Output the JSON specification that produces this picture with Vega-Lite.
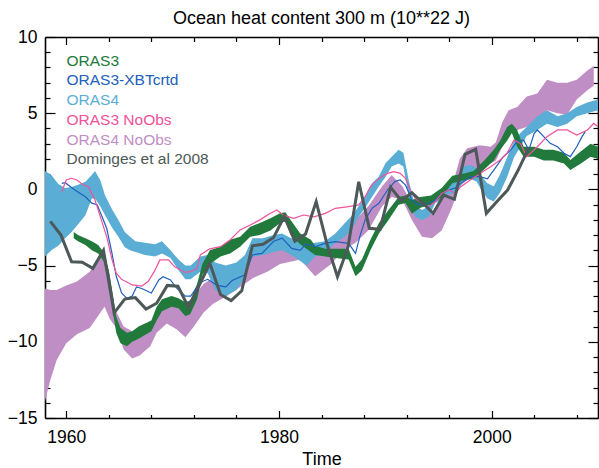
{
  "$schema": "https://vega.github.io/schema/vega-lite/v6.json",
  "width": 553,
  "height": 381,
  "autosize": {"type": "none"},
  "padding": {"left": 45, "top": 37, "right": 1, "bottom": 50},
  "background": "white",
  "title": {
    "text": "Ocean heat content 300 m (10**22 J)",
    "font": "Liberation Sans",
    "fontSize": 18,
    "fontWeight": "normal",
    "color": "#000000",
    "anchor": "middle",
    "baseline": "alphabetic",
    "offset": -14
  },
  "config": {
    "view": {"stroke": null},
    "axis": {
      "grid": false,
      "labelFont": "Liberation Sans",
      "labelFontSize": 17.5,
      "labelColor": "#000000",
      "titleFont": "Liberation Sans",
      "titleFontSize": 18,
      "titleFontWeight": "normal",
      "titleColor": "#000000",
      "domainColor": "#000000",
      "domainWidth": 1.6,
      "tickColor": "#000000",
      "tickWidth": 1.2,
      "labelOverlap": false,
      "labelBound": false,
      "labelFlush": false
    },
    "legend": {
      "orient": "none",
      "legendX": 6,
      "legendY": 16,
      "title": null,
      "labelFont": "Liberation Sans",
      "labelFontSize": 15.5,
      "rowPadding": 2.7,
      "symbolSize": 0,
      "symbolOpacity": 0,
      "symbolStrokeWidth": 0,
      "labelOffset": 0
    }
  },
  "datasets": {
    "bands": [
      {"s": "ORAS4 NoObs", "t": 1958.0, "lo": -13.9, "hi": -6.5},
      {"s": "ORAS4 NoObs", "t": 1958.5, "lo": -12.5, "hi": -6.6},
      {"s": "ORAS4 NoObs", "t": 1959.1, "lo": -11.2, "hi": -6.6},
      {"s": "ORAS4 NoObs", "t": 1960.0, "lo": -10.1, "hi": -6.3},
      {"s": "ORAS4 NoObs", "t": 1961.0, "lo": -9.5, "hi": -6.05},
      {"s": "ORAS4 NoObs", "t": 1962.2, "lo": -9.1, "hi": -5.4},
      {"s": "ORAS4 NoObs", "t": 1963.2, "lo": -8.1, "hi": -4.4},
      {"s": "ORAS4 NoObs", "t": 1963.6, "lo": -7.7, "hi": -4.2},
      {"s": "ORAS4 NoObs", "t": 1964.1, "lo": -8.5, "hi": -5.7},
      {"s": "ORAS4 NoObs", "t": 1964.6, "lo": -9.0, "hi": -7.9},
      {"s": "ORAS4 NoObs", "t": 1965.4, "lo": -10.5, "hi": -9.0},
      {"s": "ORAS4 NoObs", "t": 1966.2, "lo": -11.1, "hi": -9.3},
      {"s": "ORAS4 NoObs", "t": 1966.9, "lo": -10.9, "hi": -9.2},
      {"s": "ORAS4 NoObs", "t": 1967.9, "lo": -10.3, "hi": -8.8},
      {"s": "ORAS4 NoObs", "t": 1968.5, "lo": -9.4, "hi": -8.0},
      {"s": "ORAS4 NoObs", "t": 1969.45, "lo": -8.8, "hi": -7.3},
      {"s": "ORAS4 NoObs", "t": 1970.4, "lo": -9.2, "hi": -7.2},
      {"s": "ORAS4 NoObs", "t": 1971.2, "lo": -9.7, "hi": -7.5},
      {"s": "ORAS4 NoObs", "t": 1972.0, "lo": -9.0, "hi": -7.0},
      {"s": "ORAS4 NoObs", "t": 1972.9, "lo": -8.1, "hi": -6.2},
      {"s": "ORAS4 NoObs", "t": 1973.8, "lo": -7.5, "hi": -5.8},
      {"s": "ORAS4 NoObs", "t": 1975.1, "lo": -7.0, "hi": -5.6},
      {"s": "ORAS4 NoObs", "t": 1976.35, "lo": -6.4, "hi": -5.0},
      {"s": "ORAS4 NoObs", "t": 1977.6, "lo": -5.8, "hi": -4.2},
      {"s": "ORAS4 NoObs", "t": 1978.9, "lo": -5.4, "hi": -3.7},
      {"s": "ORAS4 NoObs", "t": 1980.1, "lo": -4.9, "hi": -3.3},
      {"s": "ORAS4 NoObs", "t": 1981.4, "lo": -4.7, "hi": -3.2},
      {"s": "ORAS4 NoObs", "t": 1982.0, "lo": -4.6, "hi": -3.3},
      {"s": "ORAS4 NoObs", "t": 1983.4, "lo": -5.7, "hi": -3.8},
      {"s": "ORAS4 NoObs", "t": 1985.0, "lo": -4.85, "hi": -3.1},
      {"s": "ORAS4 NoObs", "t": 1986.0, "lo": -4.0, "hi": -2.6},
      {"s": "ORAS4 NoObs", "t": 1987.2, "lo": -3.5, "hi": -2.0},
      {"s": "ORAS4 NoObs", "t": 1988.4, "lo": -2.7, "hi": -1.1},
      {"s": "ORAS4 NoObs", "t": 1989.7, "lo": -1.1, "hi": 0.2},
      {"s": "ORAS4 NoObs", "t": 1990.6, "lo": -0.5, "hi": 0.95},
      {"s": "ORAS4 NoObs", "t": 1991.6, "lo": -0.7, "hi": 0.2},
      {"s": "ORAS4 NoObs", "t": 1992.5, "lo": -2.0, "hi": -0.9},
      {"s": "ORAS4 NoObs", "t": 1993.45, "lo": -3.1, "hi": -1.35},
      {"s": "ORAS4 NoObs", "t": 1994.4, "lo": -3.2, "hi": -1.6},
      {"s": "ORAS4 NoObs", "t": 1995.3, "lo": -2.7, "hi": -0.5},
      {"s": "ORAS4 NoObs", "t": 1996.2, "lo": -1.3, "hi": 0.0},
      {"s": "ORAS4 NoObs", "t": 1997.0, "lo": 0.2, "hi": 2.0},
      {"s": "ORAS4 NoObs", "t": 1997.7, "lo": 0.6, "hi": 2.7},
      {"s": "ORAS4 NoObs", "t": 1998.9, "lo": 1.3, "hi": 2.9},
      {"s": "ORAS4 NoObs", "t": 1999.9, "lo": 1.7, "hi": 2.8},
      {"s": "ORAS4 NoObs", "t": 2000.4, "lo": 1.9, "hi": 3.1},
      {"s": "ORAS4 NoObs", "t": 2001.0, "lo": 2.8, "hi": 4.4},
      {"s": "ORAS4 NoObs", "t": 2001.6, "lo": 3.7, "hi": 5.2},
      {"s": "ORAS4 NoObs", "t": 2002.4, "lo": 3.9, "hi": 5.4},
      {"s": "ORAS4 NoObs", "t": 2003.3, "lo": 4.1, "hi": 6.1},
      {"s": "ORAS4 NoObs", "t": 2004.3, "lo": 4.4, "hi": 6.3},
      {"s": "ORAS4 NoObs", "t": 2005.2, "lo": 5.2, "hi": 7.2},
      {"s": "ORAS4 NoObs", "t": 2006.2, "lo": 5.0, "hi": 7.0},
      {"s": "ORAS4 NoObs", "t": 2007.1, "lo": 4.9, "hi": 7.0},
      {"s": "ORAS4 NoObs", "t": 2008.0, "lo": 5.9, "hi": 7.2},
      {"s": "ORAS4 NoObs", "t": 2009.0, "lo": 6.5, "hi": 7.8},
      {"s": "ORAS4 NoObs", "t": 2009.6, "lo": 6.8, "hi": 8.1},

      {"s": "ORAS4", "t": 1958.0, "lo": -4.4, "hi": 1.2},
      {"s": "ORAS4", "t": 1958.6, "lo": -4.0, "hi": 0.95},
      {"s": "ORAS4", "t": 1959.25, "lo": -3.7, "hi": 0.35},
      {"s": "ORAS4", "t": 1959.9, "lo": -3.2, "hi": 0.1},
      {"s": "ORAS4", "t": 1960.5, "lo": -2.8, "hi": 0.15},
      {"s": "ORAS4", "t": 1961.1, "lo": -2.3, "hi": 0.3},
      {"s": "ORAS4", "t": 1961.8, "lo": -1.7, "hi": 0.5},
      {"s": "ORAS4", "t": 1962.4, "lo": -0.6, "hi": 0.95},
      {"s": "ORAS4", "t": 1962.7, "lo": -0.6, "hi": 1.2},
      {"s": "ORAS4", "t": 1963.2, "lo": -1.1, "hi": 0.6},
      {"s": "ORAS4", "t": 1963.65, "lo": -1.7, "hi": -0.4},
      {"s": "ORAS4", "t": 1964.3, "lo": -2.5, "hi": -1.3},
      {"s": "ORAS4", "t": 1964.9, "lo": -3.1, "hi": -2.0},
      {"s": "ORAS4", "t": 1965.5, "lo": -3.8, "hi": -2.8},
      {"s": "ORAS4", "t": 1966.0, "lo": -4.0, "hi": -3.1},
      {"s": "ORAS4", "t": 1966.5, "lo": -4.1, "hi": -3.4},
      {"s": "ORAS4", "t": 1967.4, "lo": -4.3, "hi": -3.5},
      {"s": "ORAS4", "t": 1968.35, "lo": -4.4, "hi": -3.6},
      {"s": "ORAS4", "t": 1969.0, "lo": -4.2, "hi": -3.4},
      {"s": "ORAS4", "t": 1969.8, "lo": -4.5, "hi": -4.0},
      {"s": "ORAS4", "t": 1970.55, "lo": -5.3, "hi": -4.6},
      {"s": "ORAS4", "t": 1971.2, "lo": -5.9, "hi": -5.0},
      {"s": "ORAS4", "t": 1971.7, "lo": -5.9, "hi": -5.0},
      {"s": "ORAS4", "t": 1972.6, "lo": -5.4, "hi": -4.4},
      {"s": "ORAS4", "t": 1973.3, "lo": -5.5, "hi": -4.3},
      {"s": "ORAS4", "t": 1974.0, "lo": -6.6, "hi": -4.8},
      {"s": "ORAS4", "t": 1975.0, "lo": -7.0, "hi": -5.0},
      {"s": "ORAS4", "t": 1976.0, "lo": -6.6, "hi": -4.8},
      {"s": "ORAS4", "t": 1976.8, "lo": -5.8, "hi": -4.3},
      {"s": "ORAS4", "t": 1977.5, "lo": -4.4, "hi": -3.2},
      {"s": "ORAS4", "t": 1978.5, "lo": -4.3, "hi": -3.2},
      {"s": "ORAS4", "t": 1979.5, "lo": -4.1, "hi": -3.0},
      {"s": "ORAS4", "t": 1980.3, "lo": -4.0, "hi": -2.9},
      {"s": "ORAS4", "t": 1981.4, "lo": -4.4, "hi": -3.3},
      {"s": "ORAS4", "t": 1982.6, "lo": -5.0, "hi": -3.6},
      {"s": "ORAS4", "t": 1983.4, "lo": -4.4, "hi": -3.5},
      {"s": "ORAS4", "t": 1984.35, "lo": -4.2, "hi": -3.4},
      {"s": "ORAS4", "t": 1985.3, "lo": -3.5, "hi": -2.9},
      {"s": "ORAS4", "t": 1986.2, "lo": -3.1, "hi": -2.2},
      {"s": "ORAS4", "t": 1986.9, "lo": -2.6, "hi": -1.7},
      {"s": "ORAS4", "t": 1987.5, "lo": -1.8, "hi": -1.1},
      {"s": "ORAS4", "t": 1988.1, "lo": -1.2, "hi": -0.5},
      {"s": "ORAS4", "t": 1988.75, "lo": -0.5, "hi": 0.4},
      {"s": "ORAS4", "t": 1989.4, "lo": 0.2, "hi": 0.85},
      {"s": "ORAS4", "t": 1990.0, "lo": 0.8, "hi": 1.7},
      {"s": "ORAS4", "t": 1990.6, "lo": 1.5, "hi": 2.15},
      {"s": "ORAS4", "t": 1991.25, "lo": 1.7, "hi": 2.6},
      {"s": "ORAS4", "t": 1991.7, "lo": 1.5, "hi": 2.4},
      {"s": "ORAS4", "t": 1992.2, "lo": -0.5, "hi": 0.6},
      {"s": "ORAS4", "t": 1992.8, "lo": -1.8, "hi": -1.1},
      {"s": "ORAS4", "t": 1993.45, "lo": -2.0, "hi": -1.35},
      {"s": "ORAS4", "t": 1994.1, "lo": -1.8, "hi": -1.1},
      {"s": "ORAS4", "t": 1994.7, "lo": -0.9, "hi": -0.3},
      {"s": "ORAS4", "t": 1995.3, "lo": -0.7, "hi": 0.0},
      {"s": "ORAS4", "t": 1995.96, "lo": -0.3, "hi": 0.4},
      {"s": "ORAS4", "t": 1996.6, "lo": -0.3, "hi": 0.6},
      {"s": "ORAS4", "t": 1997.3, "lo": 0.5, "hi": 1.5},
      {"s": "ORAS4", "t": 1998.0, "lo": 0.7, "hi": 1.6},
      {"s": "ORAS4", "t": 1998.6, "lo": 0.5, "hi": 1.4},
      {"s": "ORAS4", "t": 1999.0, "lo": 0.0, "hi": 0.9},
      {"s": "ORAS4", "t": 1999.6, "lo": -0.6, "hi": 0.4},
      {"s": "ORAS4", "t": 2000.2, "lo": -0.8, "hi": 0.2},
      {"s": "ORAS4", "t": 2000.8, "lo": -0.2, "hi": 1.0},
      {"s": "ORAS4", "t": 2001.45, "lo": 0.8, "hi": 2.1},
      {"s": "ORAS4", "t": 2002.1, "lo": 2.1, "hi": 3.2},
      {"s": "ORAS4", "t": 2002.7, "lo": 2.8, "hi": 3.7},
      {"s": "ORAS4", "t": 2003.3, "lo": 3.5, "hi": 4.1},
      {"s": "ORAS4", "t": 2004.3, "lo": 3.9, "hi": 4.8},
      {"s": "ORAS4", "t": 2005.2, "lo": 4.3, "hi": 5.2},
      {"s": "ORAS4", "t": 2006.2, "lo": 4.1, "hi": 4.8},
      {"s": "ORAS4", "t": 2007.1, "lo": 4.3, "hi": 5.0},
      {"s": "ORAS4", "t": 2008.0, "lo": 4.8, "hi": 5.4},
      {"s": "ORAS4", "t": 2009.0, "lo": 5.0, "hi": 5.7},
      {"s": "ORAS4", "t": 2010.0, "lo": 5.2, "hi": 5.9},

      {"s": "ORAS3", "t": 1960.7, "lo": -3.2, "hi": -2.8},
      {"s": "ORAS3", "t": 1961.1, "lo": -3.4, "hi": -3.0},
      {"s": "ORAS3", "t": 1961.8, "lo": -3.65, "hi": -3.2},
      {"s": "ORAS3", "t": 1962.4, "lo": -4.0, "hi": -3.4},
      {"s": "ORAS3", "t": 1963.0, "lo": -4.2, "hi": -3.65},
      {"s": "ORAS3", "t": 1963.5, "lo": -4.7, "hi": -4.1},
      {"s": "ORAS3", "t": 1964.0, "lo": -6.2, "hi": -5.3},
      {"s": "ORAS3", "t": 1964.4, "lo": -8.1, "hi": -7.0},
      {"s": "ORAS3", "t": 1964.7, "lo": -9.4, "hi": -8.35},
      {"s": "ORAS3", "t": 1965.1, "lo": -10.1, "hi": -9.1},
      {"s": "ORAS3", "t": 1965.7, "lo": -10.3, "hi": -9.4},
      {"s": "ORAS3", "t": 1966.2, "lo": -10.0, "hi": -9.3},
      {"s": "ORAS3", "t": 1966.8, "lo": -9.8, "hi": -9.0},
      {"s": "ORAS3", "t": 1967.4, "lo": -9.55, "hi": -8.8},
      {"s": "ORAS3", "t": 1968.0, "lo": -9.3, "hi": -8.6},
      {"s": "ORAS3", "t": 1968.5, "lo": -8.6, "hi": -7.7},
      {"s": "ORAS3", "t": 1969.0, "lo": -8.0, "hi": -7.2},
      {"s": "ORAS3", "t": 1969.9, "lo": -7.7, "hi": -7.0},
      {"s": "ORAS3", "t": 1970.55, "lo": -7.8, "hi": -7.15},
      {"s": "ORAS3", "t": 1971.2, "lo": -8.3, "hi": -7.4},
      {"s": "ORAS3", "t": 1971.65, "lo": -8.2, "hi": -7.3},
      {"s": "ORAS3", "t": 1972.3, "lo": -7.2, "hi": -6.2},
      {"s": "ORAS3", "t": 1972.8, "lo": -5.6, "hi": -4.9},
      {"s": "ORAS3", "t": 1973.5, "lo": -4.9, "hi": -4.0},
      {"s": "ORAS3", "t": 1974.5, "lo": -4.4, "hi": -3.76},
      {"s": "ORAS3", "t": 1975.4, "lo": -4.2, "hi": -3.3},
      {"s": "ORAS3", "t": 1976.35, "lo": -3.76, "hi": -3.1},
      {"s": "ORAS3", "t": 1977.3, "lo": -3.1, "hi": -2.45},
      {"s": "ORAS3", "t": 1978.2, "lo": -3.0, "hi": -2.2},
      {"s": "ORAS3", "t": 1979.2, "lo": -2.7, "hi": -1.9},
      {"s": "ORAS3", "t": 1980.1, "lo": -2.2, "hi": -1.57},
      {"s": "ORAS3", "t": 1980.6, "lo": -2.1, "hi": -1.5},
      {"s": "ORAS3", "t": 1981.1, "lo": -3.0, "hi": -2.0},
      {"s": "ORAS3", "t": 1982.0, "lo": -3.6, "hi": -2.9},
      {"s": "ORAS3", "t": 1983.0, "lo": -4.1, "hi": -3.3},
      {"s": "ORAS3", "t": 1983.4, "lo": -4.3, "hi": -3.7},
      {"s": "ORAS3", "t": 1984.35, "lo": -4.4, "hi": -3.9},
      {"s": "ORAS3", "t": 1985.3, "lo": -4.5, "hi": -3.9},
      {"s": "ORAS3", "t": 1986.55, "lo": -4.6, "hi": -3.9},
      {"s": "ORAS3", "t": 1987.2, "lo": -5.7, "hi": -5.07},
      {"s": "ORAS3", "t": 1987.8, "lo": -5.3, "hi": -4.6},
      {"s": "ORAS3", "t": 1988.6, "lo": -4.0, "hi": -3.3},
      {"s": "ORAS3", "t": 1989.4, "lo": -2.9, "hi": -2.2},
      {"s": "ORAS3", "t": 1990.3, "lo": -2.0, "hi": -1.35},
      {"s": "ORAS3", "t": 1991.25, "lo": -1.0, "hi": -0.5},
      {"s": "ORAS3", "t": 1991.9, "lo": -0.9, "hi": -0.4},
      {"s": "ORAS3", "t": 1992.5, "lo": -1.6, "hi": -0.7},
      {"s": "ORAS3", "t": 1993.3, "lo": -1.2, "hi": -0.5},
      {"s": "ORAS3", "t": 1994.3, "lo": -1.0, "hi": -0.4},
      {"s": "ORAS3", "t": 1995.3, "lo": -0.5, "hi": 0.1},
      {"s": "ORAS3", "t": 1996.3, "lo": 0.4, "hi": 0.9},
      {"s": "ORAS3", "t": 1997.4, "lo": 0.6, "hi": 1.05},
      {"s": "ORAS3", "t": 1998.3, "lo": 0.7, "hi": 1.2},
      {"s": "ORAS3", "t": 1999.3, "lo": 1.3, "hi": 1.9},
      {"s": "ORAS3", "t": 2000.2, "lo": 1.9, "hi": 2.6},
      {"s": "ORAS3", "t": 2000.8, "lo": 2.6, "hi": 3.2},
      {"s": "ORAS3", "t": 2001.45, "lo": 3.2, "hi": 4.1},
      {"s": "ORAS3", "t": 2001.9, "lo": 3.7, "hi": 4.3},
      {"s": "ORAS3", "t": 2002.4, "lo": 2.8, "hi": 3.9},
      {"s": "ORAS3", "t": 2003.0, "lo": 2.15, "hi": 2.8},
      {"s": "ORAS3", "t": 2004.0, "lo": 2.15, "hi": 2.8},
      {"s": "ORAS3", "t": 2004.9, "lo": 1.9, "hi": 2.6},
      {"s": "ORAS3", "t": 2005.8, "lo": 1.9, "hi": 2.6},
      {"s": "ORAS3", "t": 2006.8, "lo": 1.7, "hi": 2.4},
      {"s": "ORAS3", "t": 2007.4, "lo": 1.27, "hi": 1.93},
      {"s": "ORAS3", "t": 2008.4, "lo": 1.7, "hi": 2.5},
      {"s": "ORAS3", "t": 2009.3, "lo": 2.15, "hi": 3.0},
      {"s": "ORAS3", "t": 2010.0, "lo": 2.0, "hi": 2.8}
    ],
    "lines": [
      {"s": "ORAS3-XBTcrtd", "t": 1959.57, "v": 0.4},
      {"s": "ORAS3-XBTcrtd", "t": 1959.9, "v": 0.44},
      {"s": "ORAS3-XBTcrtd", "t": 1960.8, "v": -0.04},
      {"s": "ORAS3-XBTcrtd", "t": 1961.8, "v": -0.48},
      {"s": "ORAS3-XBTcrtd", "t": 1962.4, "v": -0.9},
      {"s": "ORAS3-XBTcrtd", "t": 1962.9, "v": -1.0},
      {"s": "ORAS3-XBTcrtd", "t": 1963.3, "v": -1.68},
      {"s": "ORAS3-XBTcrtd", "t": 1963.8, "v": -2.55},
      {"s": "ORAS3-XBTcrtd", "t": 1964.3, "v": -4.2},
      {"s": "ORAS3-XBTcrtd", "t": 1964.7, "v": -5.7},
      {"s": "ORAS3-XBTcrtd", "t": 1965.2, "v": -6.8},
      {"s": "ORAS3-XBTcrtd", "t": 1965.7, "v": -7.15},
      {"s": "ORAS3-XBTcrtd", "t": 1966.2, "v": -7.0},
      {"s": "ORAS3-XBTcrtd", "t": 1966.6, "v": -6.4},
      {"s": "ORAS3-XBTcrtd", "t": 1967.1, "v": -6.5},
      {"s": "ORAS3-XBTcrtd", "t": 1968.0, "v": -6.8},
      {"s": "ORAS3-XBTcrtd", "t": 1968.7, "v": -5.94},
      {"s": "ORAS3-XBTcrtd", "t": 1969.1, "v": -5.73},
      {"s": "ORAS3-XBTcrtd", "t": 1969.8, "v": -5.94},
      {"s": "ORAS3-XBTcrtd", "t": 1970.4, "v": -6.5},
      {"s": "ORAS3-XBTcrtd", "t": 1971.2, "v": -7.0},
      {"s": "ORAS3-XBTcrtd", "t": 1971.7, "v": -7.0},
      {"s": "ORAS3-XBTcrtd", "t": 1972.6, "v": -6.1},
      {"s": "ORAS3-XBTcrtd", "t": 1973.3, "v": -5.9},
      {"s": "ORAS3-XBTcrtd", "t": 1974.2, "v": -6.3},
      {"s": "ORAS3-XBTcrtd", "t": 1975.0, "v": -6.4},
      {"s": "ORAS3-XBTcrtd", "t": 1975.6, "v": -5.98},
      {"s": "ORAS3-XBTcrtd", "t": 1976.8, "v": -5.6},
      {"s": "ORAS3-XBTcrtd", "t": 1977.5, "v": -4.3},
      {"s": "ORAS3-XBTcrtd", "t": 1978.4, "v": -4.2},
      {"s": "ORAS3-XBTcrtd", "t": 1979.5, "v": -3.4},
      {"s": "ORAS3-XBTcrtd", "t": 1980.3, "v": -3.2},
      {"s": "ORAS3-XBTcrtd", "t": 1981.2, "v": -3.87},
      {"s": "ORAS3-XBTcrtd", "t": 1982.0, "v": -4.0},
      {"s": "ORAS3-XBTcrtd", "t": 1982.5, "v": -3.6},
      {"s": "ORAS3-XBTcrtd", "t": 1983.4, "v": -3.76},
      {"s": "ORAS3-XBTcrtd", "t": 1984.35, "v": -3.54},
      {"s": "ORAS3-XBTcrtd", "t": 1985.3, "v": -3.43},
      {"s": "ORAS3-XBTcrtd", "t": 1986.55, "v": -3.54},
      {"s": "ORAS3-XBTcrtd", "t": 1987.2, "v": -4.2},
      {"s": "ORAS3-XBTcrtd", "t": 1987.6, "v": -3.1},
      {"s": "ORAS3-XBTcrtd", "t": 1988.1, "v": -2.0},
      {"s": "ORAS3-XBTcrtd", "t": 1988.75, "v": -1.24},
      {"s": "ORAS3-XBTcrtd", "t": 1989.4, "v": -0.91},
      {"s": "ORAS3-XBTcrtd", "t": 1990.2, "v": -0.04},
      {"s": "ORAS3-XBTcrtd", "t": 1990.9, "v": 0.51},
      {"s": "ORAS3-XBTcrtd", "t": 1991.4, "v": 0.62},
      {"s": "ORAS3-XBTcrtd", "t": 1991.9, "v": 0.29},
      {"s": "ORAS3-XBTcrtd", "t": 1992.5, "v": -0.7},
      {"s": "ORAS3-XBTcrtd", "t": 1993.1, "v": -1.02},
      {"s": "ORAS3-XBTcrtd", "t": 1993.8, "v": -1.02},
      {"s": "ORAS3-XBTcrtd", "t": 1994.7, "v": -0.7},
      {"s": "ORAS3-XBTcrtd", "t": 1995.3, "v": -0.26},
      {"s": "ORAS3-XBTcrtd", "t": 1995.96, "v": -0.04},
      {"s": "ORAS3-XBTcrtd", "t": 1996.6, "v": 0.1},
      {"s": "ORAS3-XBTcrtd", "t": 1997.1, "v": 0.4},
      {"s": "ORAS3-XBTcrtd", "t": 1998.0, "v": 0.84},
      {"s": "ORAS3-XBTcrtd", "t": 1998.9, "v": 0.84},
      {"s": "ORAS3-XBTcrtd", "t": 1999.6, "v": 0.7},
      {"s": "ORAS3-XBTcrtd", "t": 2000.2, "v": 1.27},
      {"s": "ORAS3-XBTcrtd", "t": 2001.1, "v": 2.15},
      {"s": "ORAS3-XBTcrtd", "t": 2001.8, "v": 2.59},
      {"s": "ORAS3-XBTcrtd", "t": 2002.4, "v": 3.13},
      {"s": "ORAS3-XBTcrtd", "t": 2003.0, "v": 3.24},
      {"s": "ORAS3-XBTcrtd", "t": 2003.5, "v": 2.59},
      {"s": "ORAS3-XBTcrtd", "t": 2004.0, "v": 3.68},
      {"s": "ORAS3-XBTcrtd", "t": 2004.3, "v": 3.9},
      {"s": "ORAS3-XBTcrtd", "t": 2004.9, "v": 3.46},
      {"s": "ORAS3-XBTcrtd", "t": 2005.5, "v": 3.02},
      {"s": "ORAS3-XBTcrtd", "t": 2006.2, "v": 2.8},
      {"s": "ORAS3-XBTcrtd", "t": 2006.8, "v": 2.37},
      {"s": "ORAS3-XBTcrtd", "t": 2007.4, "v": 2.15},
      {"s": "ORAS3-XBTcrtd", "t": 2008.0, "v": 2.8},
      {"s": "ORAS3-XBTcrtd", "t": 2008.5, "v": 3.46},
      {"s": "ORAS3-XBTcrtd", "t": 2008.8, "v": 3.79},

      {"s": "ORAS3 NoObs", "t": 1959.57, "v": -0.15},
      {"s": "ORAS3 NoObs", "t": 1960.0, "v": 0.62},
      {"s": "ORAS3 NoObs", "t": 1960.5, "v": 0.73},
      {"s": "ORAS3 NoObs", "t": 1961.0, "v": 0.62},
      {"s": "ORAS3 NoObs", "t": 1961.6, "v": 0.29},
      {"s": "ORAS3 NoObs", "t": 1962.1, "v": 0.18},
      {"s": "ORAS3 NoObs", "t": 1962.7, "v": -0.7},
      {"s": "ORAS3 NoObs", "t": 1963.2, "v": -1.79},
      {"s": "ORAS3 NoObs", "t": 1963.8, "v": -3.1},
      {"s": "ORAS3 NoObs", "t": 1964.3, "v": -4.6},
      {"s": "ORAS3 NoObs", "t": 1964.7, "v": -5.5},
      {"s": "ORAS3 NoObs", "t": 1965.2, "v": -5.9},
      {"s": "ORAS3 NoObs", "t": 1966.2, "v": -6.27},
      {"s": "ORAS3 NoObs", "t": 1967.1, "v": -6.34},
      {"s": "ORAS3 NoObs", "t": 1967.7, "v": -6.05},
      {"s": "ORAS3 NoObs", "t": 1968.35, "v": -5.3},
      {"s": "ORAS3 NoObs", "t": 1968.8, "v": -4.63},
      {"s": "ORAS3 NoObs", "t": 1969.6, "v": -4.63},
      {"s": "ORAS3 NoObs", "t": 1970.2, "v": -5.07},
      {"s": "ORAS3 NoObs", "t": 1971.2, "v": -5.45},
      {"s": "ORAS3 NoObs", "t": 1971.65, "v": -5.4},
      {"s": "ORAS3 NoObs", "t": 1972.3, "v": -5.2},
      {"s": "ORAS3 NoObs", "t": 1972.6, "v": -4.3},
      {"s": "ORAS3 NoObs", "t": 1973.5, "v": -3.9},
      {"s": "ORAS3 NoObs", "t": 1974.5, "v": -3.76},
      {"s": "ORAS3 NoObs", "t": 1975.4, "v": -3.32},
      {"s": "ORAS3 NoObs", "t": 1976.35, "v": -2.66},
      {"s": "ORAS3 NoObs", "t": 1977.3, "v": -2.34},
      {"s": "ORAS3 NoObs", "t": 1978.2, "v": -2.0},
      {"s": "ORAS3 NoObs", "t": 1979.2, "v": -1.57},
      {"s": "ORAS3 NoObs", "t": 1979.8, "v": -1.35},
      {"s": "ORAS3 NoObs", "t": 1980.4, "v": -1.68},
      {"s": "ORAS3 NoObs", "t": 1981.4, "v": -1.9},
      {"s": "ORAS3 NoObs", "t": 1982.3, "v": -1.68},
      {"s": "ORAS3 NoObs", "t": 1983.3, "v": -1.8},
      {"s": "ORAS3 NoObs", "t": 1984.35, "v": -1.57},
      {"s": "ORAS3 NoObs", "t": 1985.3, "v": -1.24},
      {"s": "ORAS3 NoObs", "t": 1986.55, "v": -1.13},
      {"s": "ORAS3 NoObs", "t": 1987.5, "v": -1.02},
      {"s": "ORAS3 NoObs", "t": 1988.1, "v": -0.48},
      {"s": "ORAS3 NoObs", "t": 1988.6, "v": 0.18},
      {"s": "ORAS3 NoObs", "t": 1989.06, "v": 0.51},
      {"s": "ORAS3 NoObs", "t": 1989.7, "v": 0.84},
      {"s": "ORAS3 NoObs", "t": 1990.2, "v": 1.05},
      {"s": "ORAS3 NoObs", "t": 1990.8, "v": 1.16},
      {"s": "ORAS3 NoObs", "t": 1991.4, "v": 1.05},
      {"s": "ORAS3 NoObs", "t": 1991.9, "v": 0.73},
      {"s": "ORAS3 NoObs", "t": 1992.35, "v": -0.04},
      {"s": "ORAS3 NoObs", "t": 1992.8, "v": -0.59},
      {"s": "ORAS3 NoObs", "t": 1993.45, "v": -0.91},
      {"s": "ORAS3 NoObs", "t": 1994.1, "v": -1.13},
      {"s": "ORAS3 NoObs", "t": 1994.7, "v": -0.8},
      {"s": "ORAS3 NoObs", "t": 1995.3, "v": -0.26},
      {"s": "ORAS3 NoObs", "t": 1995.96, "v": -0.04},
      {"s": "ORAS3 NoObs", "t": 1996.6, "v": -0.26},
      {"s": "ORAS3 NoObs", "t": 1997.1, "v": 0.18},
      {"s": "ORAS3 NoObs", "t": 1998.0, "v": 0.62},
      {"s": "ORAS3 NoObs", "t": 1998.9, "v": 1.05},
      {"s": "ORAS3 NoObs", "t": 1999.9, "v": 1.49},
      {"s": "ORAS3 NoObs", "t": 2000.8, "v": 1.93},
      {"s": "ORAS3 NoObs", "t": 2001.45, "v": 2.37},
      {"s": "ORAS3 NoObs", "t": 2002.1, "v": 3.24},
      {"s": "ORAS3 NoObs", "t": 2002.7, "v": 3.02},
      {"s": "ORAS3 NoObs", "t": 2003.3, "v": 2.15},
      {"s": "ORAS3 NoObs", "t": 2004.3, "v": 2.8},
      {"s": "ORAS3 NoObs", "t": 2005.2, "v": 3.46},
      {"s": "ORAS3 NoObs", "t": 2006.2, "v": 3.9},
      {"s": "ORAS3 NoObs", "t": 2007.1, "v": 3.9},
      {"s": "ORAS3 NoObs", "t": 2008.0, "v": 3.57},
      {"s": "ORAS3 NoObs", "t": 2009.0, "v": 3.9},
      {"s": "ORAS3 NoObs", "t": 2009.6, "v": 4.33},
      {"s": "ORAS3 NoObs", "t": 2010.0, "v": 4.12},

      {"s": "Dominges et al 2008", "t": 1958.5, "v": -2.1},
      {"s": "Dominges et al 2008", "t": 1959.5, "v": -3.0},
      {"s": "Dominges et al 2008", "t": 1960.5, "v": -4.75},
      {"s": "Dominges et al 2008", "t": 1961.5, "v": -4.78},
      {"s": "Dominges et al 2008", "t": 1962.5, "v": -5.18},
      {"s": "Dominges et al 2008", "t": 1963.5, "v": -4.0},
      {"s": "Dominges et al 2008", "t": 1964.5, "v": -8.1},
      {"s": "Dominges et al 2008", "t": 1965.5, "v": -7.2},
      {"s": "Dominges et al 2008", "t": 1966.5, "v": -7.1},
      {"s": "Dominges et al 2008", "t": 1967.5, "v": -7.85},
      {"s": "Dominges et al 2008", "t": 1968.5, "v": -7.47},
      {"s": "Dominges et al 2008", "t": 1969.5, "v": -6.3},
      {"s": "Dominges et al 2008", "t": 1970.5, "v": -6.35},
      {"s": "Dominges et al 2008", "t": 1971.5, "v": -7.75},
      {"s": "Dominges et al 2008", "t": 1973.5, "v": -4.85},
      {"s": "Dominges et al 2008", "t": 1974.5, "v": -6.9},
      {"s": "Dominges et al 2008", "t": 1975.5, "v": -7.3},
      {"s": "Dominges et al 2008", "t": 1976.5, "v": -6.65},
      {"s": "Dominges et al 2008", "t": 1977.5, "v": -3.7},
      {"s": "Dominges et al 2008", "t": 1978.5, "v": -3.6},
      {"s": "Dominges et al 2008", "t": 1979.5, "v": -3.15},
      {"s": "Dominges et al 2008", "t": 1980.5, "v": -1.77},
      {"s": "Dominges et al 2008", "t": 1981.5, "v": -3.4},
      {"s": "Dominges et al 2008", "t": 1982.5, "v": -2.93},
      {"s": "Dominges et al 2008", "t": 1983.5, "v": -0.8},
      {"s": "Dominges et al 2008", "t": 1984.5, "v": -3.54},
      {"s": "Dominges et al 2008", "t": 1985.5, "v": -5.73},
      {"s": "Dominges et al 2008", "t": 1986.5, "v": -3.76},
      {"s": "Dominges et al 2008", "t": 1987.5, "v": 0.5},
      {"s": "Dominges et al 2008", "t": 1988.5, "v": -2.55},
      {"s": "Dominges et al 2008", "t": 1989.5, "v": -2.62},
      {"s": "Dominges et al 2008", "t": 1990.5, "v": 0.14},
      {"s": "Dominges et al 2008", "t": 1991.5, "v": -0.74},
      {"s": "Dominges et al 2008", "t": 1992.5, "v": -0.22},
      {"s": "Dominges et al 2008", "t": 1993.5, "v": -0.87},
      {"s": "Dominges et al 2008", "t": 1994.5, "v": -1.57},
      {"s": "Dominges et al 2008", "t": 1995.5, "v": -0.37},
      {"s": "Dominges et al 2008", "t": 1996.5, "v": -0.65},
      {"s": "Dominges et al 2008", "t": 1997.5, "v": 2.3},
      {"s": "Dominges et al 2008", "t": 1998.5, "v": 2.63},
      {"s": "Dominges et al 2008", "t": 1999.5, "v": -1.57},
      {"s": "Dominges et al 2008", "t": 2000.5, "v": -0.8},
      {"s": "Dominges et al 2008", "t": 2001.5, "v": -0.04},
      {"s": "Dominges et al 2008", "t": 2002.5, "v": 1.27},
      {"s": "Dominges et al 2008", "t": 2003.5, "v": 2.74}
    ]
  },
  "resolve": {"axis": {"x": "independent", "y": "independent"}},
  "layer": [
    {
      "data": {"name": "bands"},
      "transform": [{"filter": "datum.s === 'ORAS4 NoObs'"}],
      "mark": {"type": "area", "clip": true},
      "encoding": {
        "x": {
          "field": "t", "type": "quantitative",
          "scale": {"domain": [1958, 2010], "nice": false, "zero": false},
          "axis": {
            "orient": "bottom",
            "title": "Time",
            "values": [1960, 1964, 1968, 1972, 1976, 1980, 1984, 1988, 1992, 1996, 2000, 2004, 2008],
            "format": "d",
            "labelExpr": "datum.value % 20 === 0 ? datum.label : ''",
            "tickSize": {"condition": {"test": "datum.value % 20 === 0", "value": -7.5}, "value": -3.5},
            "labelPadding": 18,
            "titlePadding": 0
          }
        },
        "y": {
          "field": "lo", "type": "quantitative",
          "scale": {"domain": [-15, 10], "nice": false, "zero": false},
          "axis": {
            "orient": "left",
            "title": null,
            "values": [-15, -14, -13, -12, -11, -10, -9, -8, -7, -6, -5, -4, -3, -2, -1, 0, 1, 2, 3, 4, 5, 6, 7, 8, 9, 10],
            "labelExpr": "datum.value % 5 === 0 ? datum.label : ''",
            "tickSize": {"condition": {"test": "datum.value % 5 === 0", "value": -10}, "value": -5},
            "labelPadding": 18
          }
        },
        "y2": {"field": "hi"},
        "color": {
          "field": "s", "type": "nominal",
          "scale": {
            "domain": ["ORAS3", "ORAS3-XBTcrtd", "ORAS4", "ORAS3 NoObs", "ORAS4 NoObs", "Dominges et al 2008"],
            "range": ["#217a3b", "#2060bc", "#5aaed6", "#f0529b", "#bf8ec5", "#4d5858"]
          },
          "legend": {
            "encode": {"labels": {"update": {"fill": {"scale": "color", "field": "value"}}}}
          }
        }
      }
    },
    {
      "data": {"name": "bands"},
      "transform": [{"filter": "datum.s === 'ORAS4'"}],
      "mark": {"type": "area", "clip": true},
      "encoding": {
        "x": {
          "field": "t", "type": "quantitative",
          "axis": {
            "orient": "top",
            "title": null,
            "labels": false,
            "values": [1960, 1964, 1968, 1972, 1976, 1980, 1984, 1988, 1992, 1996, 2000, 2004, 2008],
            "tickSize": {"condition": {"test": "datum.value % 20 === 0", "value": -7.5}, "value": -4.5}
          }
        },
        "y": {
          "field": "lo", "type": "quantitative",
          "axis": {
            "orient": "right",
            "title": null,
            "labels": false,
            "values": [-15, -14, -13, -12, -11, -10, -9, -8, -7, -6, -5, -4, -3, -2, -1, 0, 1, 2, 3, 4, 5, 6, 7, 8, 9, 10],
            "tickSize": {"condition": {"test": "datum.value % 5 === 0", "value": -10}, "value": -5}
          }
        },
        "y2": {"field": "hi"},
        "color": {"field": "s", "type": "nominal"}
      }
    },
    {
      "data": {"name": "bands"},
      "transform": [{"filter": "datum.s === 'ORAS3'"}],
      "mark": {"type": "area", "clip": true},
      "encoding": {
        "x": {"field": "t", "type": "quantitative", "axis": null},
        "y": {"field": "lo", "type": "quantitative", "axis": null},
        "y2": {"field": "hi"},
        "color": {"field": "s", "type": "nominal"}
      }
    },
    {
      "data": {"name": "lines"},
      "transform": [{"filter": "datum.s === 'ORAS3-XBTcrtd' || datum.s === 'ORAS3 NoObs'"}],
      "mark": {"type": "line", "strokeWidth": 1.2, "clip": true},
      "encoding": {
        "x": {"field": "t", "type": "quantitative", "axis": null},
        "y": {"field": "v", "type": "quantitative", "axis": null},
        "color": {"field": "s", "type": "nominal"}
      }
    },
    {
      "data": {"name": "lines"},
      "transform": [{"filter": "datum.s === 'Dominges et al 2008'"}],
      "mark": {"type": "line", "strokeWidth": 3, "strokeJoin": "miter", "clip": true},
      "encoding": {
        "x": {"field": "t", "type": "quantitative", "axis": null},
        "y": {"field": "v", "type": "quantitative", "axis": null},
        "color": {"field": "s", "type": "nominal"}
      }
    }
  ]
}
